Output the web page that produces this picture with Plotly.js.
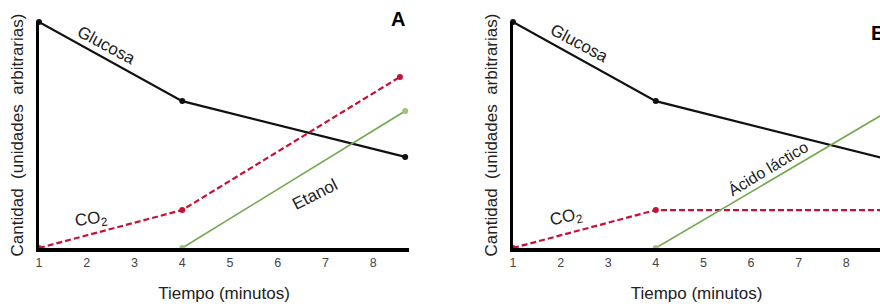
<!DOCTYPE html>
<html>
<head>
<meta charset="utf-8">
<script src="https://cdn.plot.ly/plotly-3.0.1.min.js"></script>
<style>html,body{margin:0;padding:0;background:#fff;overflow:hidden}</style>
</head>
<body>
<div id="chart" style="width:880px;height:304px"></div>
<script>
// Panel A (fermentación alcohólica)
const tiempoA = [1, 4, 8.67];
const glucosaA = [10, 6.5, 4.03];
const tiempoCO2A = [1, 4, 8.56];
const co2A = [0, 1.68, 7.57];
const tiempoEtanolA = [4, 8.67];
const etanolA = [0, 6.06];
// Panel B (fermentación láctica) — recortado a la derecha
const tiempoB = [1, 4, 8.8];
const glucosaB = [10, 6.5, 3.96];
const co2B = [0, 1.68, 1.68];
const tiempoLacticoB = [4, 8.8];
const lacticoB = [0, 5.95];
const ticksX = [1, 2, 3, 4, 5, 6, 7, 8];

const FONT = 'Liberation Sans, Arial, sans-serif';
const BLACK = '#111111', RED = '#c41236', GREEN = '#72a84e';

function line(x, y, color, width, dash, mcolor, xa, ya) {
  return {x, y, type: 'scatter', mode: 'lines+markers', xaxis: xa, yaxis: ya,
    cliponaxis: false, hoverinfo: 'skip', showlegend: false,
    line: {color, width, dash: dash || 'solid'},
    marker: {color: mcolor || color, size: 6}};
}

const data = [
  line(tiempoA, glucosaA, BLACK, 2.2, null, null, 'x', 'y'),
  line(tiempoCO2A, co2A, RED, 2.2, '6px,3px', null, 'x', 'y'),
  line(tiempoEtanolA, etanolA, GREEN, 1.6, null, '#9cc57c', 'x', 'y'),
  line(tiempoB, glucosaB, BLACK, 2.2, null, null, 'x2', 'y2'),
  line(tiempoB, co2B, RED, 2.2, '6px,3px', null, 'x2', 'y2'),
  line(tiempoLacticoB, lacticoB, GREEN, 1.6, null, '#9cc57c', 'x2', 'y2')
];

const xcommon = {
  showgrid: false, zeroline: false, showline: true, linecolor: '#000', linewidth: 3.5,
  tickmode: 'array', tickvals: ticksX, ticks: '',
  tickfont: {family: FONT, size: 12.5, color: '#444'},
  title: {text: 'Tiempo (minutos)', font: {family: FONT, size: 17, color: '#222'}, standoff: 19},
  fixedrange: true
};
const ycommon = {
  showgrid: false, zeroline: false, showline: true, linecolor: '#000', linewidth: 3.5,
  showticklabels: false, ticks: '', range: [0, 10],
  domain: [56 / 304, 282 / 304],
  title: {text: 'Cantidad  (unidades  arbitrarias)', font: {family: FONT, size: 17, color: '#222'}, standoff: 8},
  fixedrange: true
};

const ann = (text, x, y, angle, xref, yref, size) => ({
  text, x, y, xref, yref, showarrow: false, textangle: angle,
  font: {family: FONT, size: size || 17, color: '#222'}
});

const layout = {
  width: 880, height: 304,
  margin: {l: 0, r: 0, t: 0, b: 0},
  paper_bgcolor: '#fff', plot_bgcolor: '#fff',
  xaxis: Object.assign({}, xcommon, {domain: [39 / 880, 409 / 880], range: [1, 8.75], anchor: 'y'}),
  yaxis: Object.assign({}, ycommon, {anchor: 'x'}),
  xaxis2: Object.assign({}, xcommon, {domain: [513 / 880, 1], range: [1, 8.71], anchor: 'y2'}),
  yaxis2: Object.assign({}, ycommon, {anchor: 'x2'}),
  annotations: [
    ann('Glucosa', 2.42, 8.98, 28, 'x', 'y'),
    ann('CO<sub>2</sub>', 2.11, 1.24, -8, 'x', 'y'),
    ann('Etanol', 6.78, 2.35, -27, 'x', 'y'),
    ann('Glucosa', 2.4, 9.07, 28, 'x2', 'y2'),
    ann('CO<sub>2</sub>', 2.13, 1.33, -12, 'x2', 'y2'),
    ann('Ácido láctico', 6.36, 3.54, -31, 'x2', 'y2', 16),
    {text: '<b>A</b>', x: 398 / 880, y: 1 - 19 / 304, xref: 'paper', yref: 'paper', showarrow: false,
      yanchor: 'middle', font: {family: FONT, size: 20, color: '#000'}},
    {text: '<b>B</b>', x: 869 / 880, y: 1 - 33 / 304, xref: 'paper', yref: 'paper', showarrow: false,
      xanchor: 'left', yanchor: 'middle', font: {family: FONT, size: 20, color: '#000'}}
  ]
};

Plotly.newPlot('chart', data, layout, {displayModeBar: false, staticPlot: true});
</script>
</body>
</html>
